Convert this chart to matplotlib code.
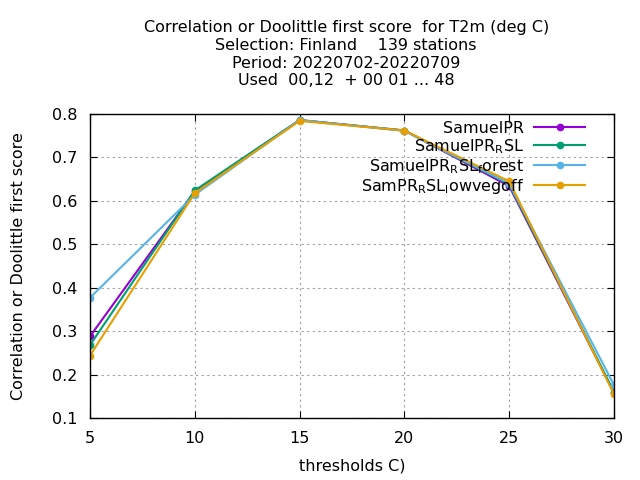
import matplotlib
matplotlib.use("Agg")
import matplotlib.pyplot as plt

# thresholds on the x axis
thresholds = [5, 10, 15, 20, 25, 30]

samuelpr = [0.288, 0.622, 0.786, 0.762, 0.634, 0.158]
samuelpr_rsl = [0.268, 0.624, 0.786, 0.762, 0.638, 0.160]
samuelpr_rsl_forest = [0.377, 0.614, 0.786, 0.761, 0.640, 0.176]
sampr_rsl_lowvegoff = [0.244, 0.618, 0.784, 0.762, 0.645, 0.155]

names = ["SamuelPR",
         r"SamuelPR$\mathregular{_R}$SL",
         r"SamuelPR$\mathregular{_R}$SL$\mathregular{_f}$orest",
         r"SamPR$\mathregular{_R}$SL$\mathregular{_l}$owvegoff"]
colors = ["#9400d3", "#009e73", "#56b4e9", "#e69f00"]
series = [samuelpr, samuelpr_rsl, samuelpr_rsl_forest, sampr_rsl_lowvegoff]

plt.rcParams["font.size"] = 11.5

fig = plt.figure(figsize=(6.4, 4.8), dpi=100)
ax = fig.add_axes([0.1406, 0.129, 0.8188, 0.6335])

for vals, name, col in zip(series, names, colors):
    ax.plot(thresholds, vals, color=col, linewidth=1.5, marker="o",
            markersize=4.5, label=name)

ax.set_xlim(5, 30)
ax.set_ylim(0.1, 0.8)
ax.set_xticks(thresholds)
ax.set_yticks([0.1, 0.2, 0.3, 0.4, 0.5, 0.6, 0.7, 0.8])
ax.grid(True, color="#a0a0a0", linestyle=(0, (2, 3)), linewidth=0.8)
ax.tick_params(direction="in", top=True, right=True, length=5)
ax.tick_params(axis="y", pad=9)
ax.tick_params(axis="x", pad=9)
for sp in ax.spines.values():
    sp.set_linewidth(1.0)

ax.set_xlabel("thresholds C)", labelpad=9)
ax.set_ylabel("Correlation or Doolittle first score", labelpad=19)

fig.text(0.541, 0.958,
         "Correlation or Doolittle first score  for T2m (deg C)\n"
         "Selection: Finland    139 stations\n"
         "Period: 20220702-20220709\n"
         "Used  00,12  + 00 01 ... 48",
         ha="center", va="top", linespacing=1.23)

ax.legend(loc="upper right", bbox_to_anchor=(0.945, 0.978), frameon=False,
          markerfirst=False, handlelength=3.2, labelspacing=0.08,
          borderaxespad=0, borderpad=0, handletextpad=0.6)

fig.savefig("out.png", dpi=100)
